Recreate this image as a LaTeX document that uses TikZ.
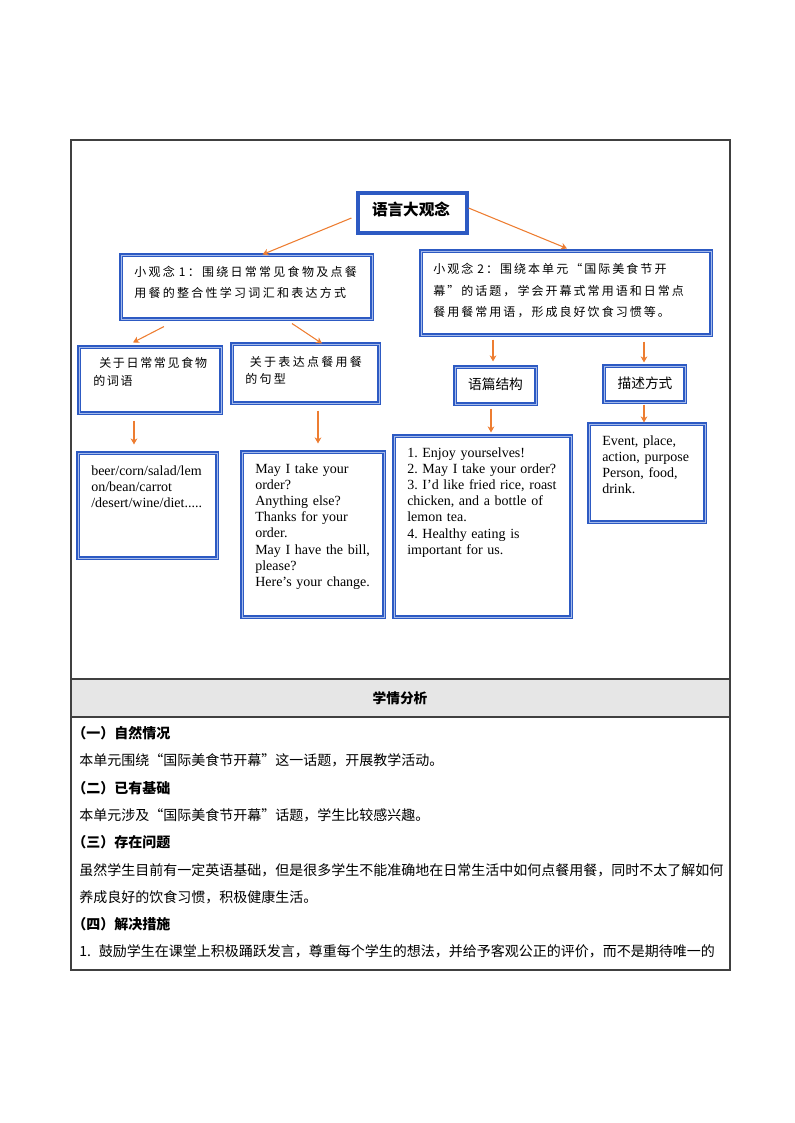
\documentclass[tikz,border=0pt]{standalone}
\usepackage{fontspec}
\setmainfont{Liberation Serif}
\newfontfamily\cjk{Noto Sans CJK SC}
\newfontfamily\cjksp[LetterSpace=19]{Noto Sans CJK SC}
\newfontfamily\cjkspa[LetterSpace=17]{Noto Sans CJK SC}
\newfontfamily\cjkspb[LetterSpace=14]{Noto Sans CJK SC}
\usetikzlibrary{arrows.meta,calc,fit}
\definecolor{bx}{RGB}{45,90,195}
\definecolor{bxl}{RGB}{165,186,234}
\definecolor{org}{RGB}{237,125,49}
\definecolor{frm}{RGB}{64,64,64}
\definecolor{hdr}{RGB}{230,230,230}
\begin{document}
\begin{tikzpicture}[x=0.75pt,y=-0.75pt,
  dbox/.style={draw=bx, line width=0.8pt, double=bxl, double distance=0.75pt, inner sep=0pt},
  bigbox/.style={draw=bx, line width=2.3pt, inner sep=0pt},
  arr/.style={draw=org, line width=0.8pt, -{Stealth[length=4.5pt,width=5pt,inset=1.3pt]}},
  en/.style={font=\frenchspacing\fontsize{10.5pt}{12.15pt}\selectfont, text width=150pt, align=left, inner sep=0pt, anchor=base west},
  cs/.style={font=\cjksp\fontsize{9pt}{15.75pt}\selectfont, text width=260pt, align=left, inner sep=0pt, anchor=base west},
  csa/.style={font=\cjkspa\fontsize{9pt}{16.2pt}\selectfont, text width=260pt, align=left, inner sep=0pt, anchor=base west},
  csb/.style={font=\fontsize{9pt}{13.3pt}\selectfont, text width=200pt, align=left, inner sep=0pt, anchor=base west},
  bt/.style={font=\cjk\fontsize{10.5pt}{13pt}\selectfont, inner sep=0pt, anchor=base west},
  bh/.style={font=\cjk\bfseries\fontsize{10.5pt}{13pt}\selectfont, inner sep=0pt, anchor=base west},
  mid/.style={font=\cjk\fontsize{10.3pt}{12pt}\selectfont, inner sep=0pt}
]
\useasboundingbox (0,0) rectangle (794,1123);

% table frame
\fill[hdr] (71,679) rectangle (730,717);
\draw[frm, line width=1pt] (71,140) rectangle (730,970);
\draw[frm, line width=0.9pt] (71,679) -- (730,679);
\draw[frm, line width=0.9pt] (71,717) -- (730,717);

% boxes
\node[bigbox, fit={(358,193)(467,233)}] (big) {};
\node[font=\cjk\bfseries\fontsize{11.7pt}{14pt}\selectfont, inner sep=0pt] (bigt) at (411,209) {语言大观念};

\node[dbox, fit={(121,255)(372,319)}] (A1) {};
\node[dbox, fit={(421,251)(711,335)}] (A2) {};
\node[dbox, fit={(79,347)(221,413)}] (B1) {};
\node[dbox, fit={(232,344)(379,403)}] (B2) {};
\node[dbox, fit={(455,367)(536,404)}] (B3) {};
\node[dbox, fit={(604,366)(685,402)}] (B4) {};
\node[dbox, fit={(78,453)(217,558)}] (C1) {};
\node[dbox, fit={(242,452)(384,617)}] (C2) {};
\node[dbox, fit={(394,436)(571,617)}] (C3) {};
\node[dbox, fit={(589,424)(705,522)}] (C4) {};

% texts in boxes
\node[cs] (A1t) at (134,276.5) {小观念 1：围绕日常常见食物及点餐\\用餐的整合性学习词汇和表达方式};
\node[csa] (A2t) at (433,273.5) {小观念 2：围绕本单元“国际美食节开\\幕”的话题，学会开幕式常用语和日常点\\餐用餐常用语，形成良好饮食习惯等。};
\node[csb] (B1t) at (93,367.5) {\hspace*{4.5pt}{\cjkspb 关于日常常见食物}\\{\cjkspb 的词语}};
\node[csb] (B2t) at (245,366) {\hspace*{3.5pt}{\cjksp 关于表达点餐用餐}\\{\cjksp 的句型}};
\node[mid] (B3t) at (495.5,384) {语篇结构};
\node[mid] (B4t) at (645,383) {描述方式};

\node[en] (C1t) at (91,475) {beer/corn/salad/lem\\on/bean/carrot\\/desert/wine/diet.....};
\node[en] (C2t) at (255,473) {May I take your\\order?\\Anything else?\\Thanks for your\\order.\\May I have the bill,\\please?\\Here’s your change.};
\node[en] (C3t) at (407,457) {1. Enjoy yourselves!\\2. May I take your order?\\3. I’d like fried rice, roast\\chicken, and a bottle of\\lemon tea.\\4. Healthy eating is\\important for us.};
\node[en] (C4t) at (602,445) {Event, place,\\action, purpose\\Person, food,\\drink.};

% arrows
\draw[arr] ([shift={(-5,5)}]big.west) -- ([shift={(16,0)}]A1.north);
\draw[arr] ([shift={(0,-5)}]big.east) -- ([shift={(1,-2)}]A2.north);
\draw[arr] ([shift={(-82.5,7)}]A1.south) -- ([shift={(-17,-4)}]B1.north);
\draw[arr] ([shift={(45.5,4)}]A1.south) -- ([shift={(16.5,0)}]B2.north);
\draw[arr] ([shift={(-73,4)}]A2.south) -- ([shift={(-2.5,-5)}]B3.north);
\draw[arr] ([shift={(78,6)}]A2.south) -- ([shift={(-0.5,-3)}]B4.north);
\draw[arr] ([shift={(-16,7)}]B1.south) -- ([shift={(-13.5,-8)}]C1.north);
\draw[arr] ([shift={(12.5,7)}]B2.south) -- ([shift={(5,-8)}]C2.north);
\draw[arr] ([shift={(-4.5,4)}]B3.south) -- ([shift={(8.5,-3)}]C3.north);
\draw[arr] ([shift={(-0.5,2)}]B4.south) -- ([shift={(-3,-1)}]C4.north);

% analysis section
\node[font=\cjk\bfseries\fontsize{10.3pt}{12pt}\selectfont, inner sep=0pt] (hd) at (400,698) {学情分析};
\node[bh] (l1) at (72,738.5) {（一）自然情况};
\node[bt] (l2) at (79,765.8) {本单元围绕“国际美食节开幕”这一话题，开展教学活动。};
\node[bh] (l3) at (72,793.1) {（二）已有基础};
\node[bt] (l4) at (79,820.4) {本单元涉及“国际美食节开幕”话题，学生比较感兴趣。};
\node[bh] (l5) at (72,847.7) {（三）存在问题};
\node[bt] (l6) at (79,875) {虽然学生目前有一定英语基础，但是很多学生不能准确地在日常生活中如何点餐用餐，同时不太了解如何};
\node[bt] (l7) at (79,902.3) {养成良好的饮食习惯，积极健康生活。};
\node[bh] (l8) at (72,929.6) {（四）解决措施};
\node[bt] (l9) at (79,956.9) {1.\hspace{6pt}鼓励学生在课堂上积极踊跃发言，尊重每个学生的想法，并给予客观公正的评价，而不是期待唯一的};
\end{tikzpicture}
\end{document}
